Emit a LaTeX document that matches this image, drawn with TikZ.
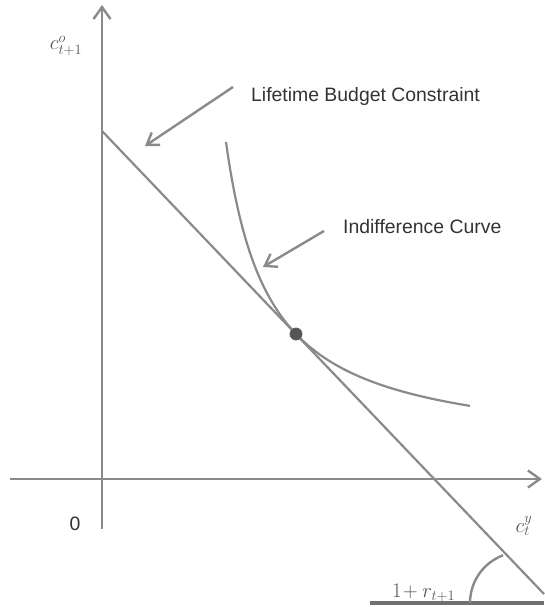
\documentclass[tikz,border=0pt]{standalone}
\usepackage{fontspec}
\setmainfont{Liberation Sans}
\usetikzlibrary{arrows.meta}
\definecolor{axisgray}{HTML}{8A8A8A}
\definecolor{darkline}{HTML}{707070}
\definecolor{txtgray}{HTML}{333333}
\definecolor{mathgray}{HTML}{555555}
\tikzset{
  axisline/.style={draw=axisgray, line width=2.6pt, -{Straight Barb[length=12pt,width=17pt,line width=2.4pt]}},
  budget/.style={draw=axisgray, line width=2.2pt},
  indiff/.style={draw=axisgray, line width=2.2pt},
  pointer/.style={draw=axisgray, line width=2.4pt, -{Straight Barb[length=11pt,width=15pt,line width=2.4pt]}},
  lbl/.style={inner sep=0pt, text=txtgray, font=\fontsize{19.4}{22}\selectfont},
  mlbl/.style={inner sep=0pt, text=mathgray, font=\fontsize{20}{24}\selectfont},
  eqpt/.style={circle, fill=mathgray, draw=txtgray!80, line width=0.8pt, minimum size=12pt, inner sep=0pt},
}
\begin{document}
\begin{tikzpicture}[x=1pt,y=-1pt]
\useasboundingbox (0,0) rectangle (544,607);
% axes
\coordinate (yb) at (102,529);
\coordinate (yt) at (102,5);
\coordinate (xl) at (10,479);
\coordinate (xr) at (542,479);
\draw[axisline] (yb) -- (yt);
\draw[axisline] (xl) -- (xr);
% budget line
\coordinate (bl) at (102,131);
\coordinate (br) at (544,594);
\draw[budget] (bl) -- (br);
% indifference curve
\draw[indiff] plot[domain=226:470, samples=120, smooth] (\x, {452.7 - 13453/(\x-182.7)});
% tangency point
\node[eqpt] (eq) at (296,334) {};
% bottom line and angle
\coordinate (hl) at (370,603);
\coordinate (hr) at (544,603);
\draw[darkline, line width=3.6pt] (hl) -- (hr);
\draw[axisgray, line width=2.4pt] (470,603) arc[start angle=180, end angle=249.4, radius=51];
% labels
\node[lbl, anchor=base west] (lbc) at (251,101.5) {Lifetime Budget Constraint};
\node[lbl, anchor=base west] (ic) at (343,233) {Indifference Curve};
\node[lbl, anchor=base] (zero) at (75,530) {0};
\node[mlbl] (cy) at (66,46) {$c^{o}_{t+1}$};
\node[mlbl] (cx) at (524,526) {$c^{y}_{t}$};
\node[mlbl, anchor=base west] (rr) at (392,597) {$1\!+r_{t+1}$};
% pointer arrows
\coordinate (a1s) at (233,87);
\coordinate (a1e) at (145,146);
\coordinate (a2s) at (324,231);
\coordinate (a2e) at (263,267);
\draw[pointer] (a1s) -- (a1e);
\draw[pointer] (a2s) -- (a2e);
\end{tikzpicture}
\end{document}
